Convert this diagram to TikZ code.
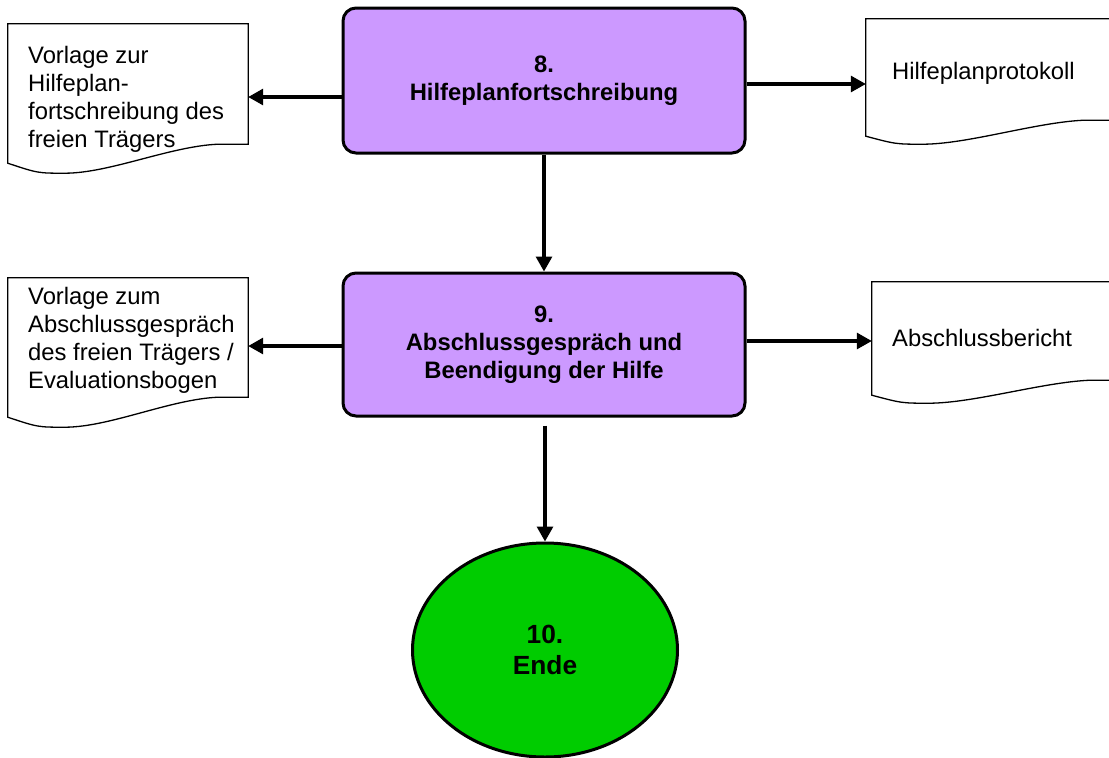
\documentclass[tikz,border=0pt]{standalone}
\usepackage{fontspec}
\setmainfont{Liberation Sans}
\usepackage{tikz}
\usetikzlibrary{calc,shapes,arrows.meta,positioning}

\definecolor{lila}{RGB}{204,153,255}
\definecolor{gruen}{RGB}{0,204,0}

\tikzset{
  prozess/.style={draw, line width=3pt, rounded corners=13pt, fill=lila,
    minimum width=402pt, minimum height=145pt, align=center, font=\bfseries},
  ende/.style={draw, ellipse, line width=3pt, fill=gruen, minimum width=265pt,
    minimum height=214pt, inner sep=0pt, align=center,
    font=\fontsize{26.3}{31.5}\selectfont\bfseries},
  dok/.style={inner sep=0pt},
  dokrand/.style={line width=1.3pt},
  doktext/.style={anchor=north west, align=left, inner sep=0pt},
  pfeil/.style={line width=3.1pt, -{Triangle[length=15pt,width=16pt]}}
}

% Dokument-Symbol: Name, Absatz links, Tiefe der Welle
\newcommand{\dokrand}[3]{%
  \draw[dokrand] (#1.north west) -- (#1.north east) -- (#1.south east)
    -- ($(#1.south east)+(-30,0)$)
    .. controls ($(#1.south east)+(-78,2)$) and ($(#1.south west)+(102,#3)$) .. ($(#1.south west)+(57,#3)$)
    .. controls ($(#1.south west)+(30,#3)$) .. ($(#1.south west)+(0,#2)$) -- cycle;}

\begin{document}
\begin{tikzpicture}[x=1pt,y=-1pt]
\useasboundingbox (0,0) rectangle (1109,758);
\fontsize{23.8}{28}\selectfont

\node[prozess] (b8) at (544,80.5) {8.\\Hilfeplanfortschreibung};
\node[prozess, minimum height=143pt] (b9) at (544,344.5) {9.\\Abschlussgespräch und\\Beendigung der Hilfe};
\node[ende] (b10) at (545,650) {10.\\Ende};

% Dokumente links
\node[dok, minimum width=240pt, minimum height=120pt] (d1) at (128,84) {};
\dokrand{d1}{19}{29}
\node[doktext] (t1) at (28,46.5) {Vorlage zur\\Hilfeplan-\\fortschreibung des\\freien Trägers};

\node[dok, minimum width=240pt, minimum height=119pt] (d2) at (128,337.5) {};
\dokrand{d2}{20}{30}
\node[doktext] (t2) at (28,287.5) {Vorlage zum\\Abschlussgespräch\\des freien Trägers /\\Evaluationsbogen};

% Dokumente rechts
\node[dok, minimum width=248pt, minimum height=101pt] (d3) at (990,69.5) {};
\dokrand{d3}{16}{24}
\node[doktext] (t3) at (892,62.5) {Hilfeplanprotokoll};

\node[dok, minimum width=248pt, minimum height=98pt] (d4) at (996,331) {};
\dokrand{d4}{15}{23}
\node[doktext] (t4) at (892,329.5) {Abschlussbericht};

% Pfeile
\draw[pfeil] (b8.west |- 0,97) -- (d1.east |- 0,97);
\draw[pfeil] (b8.east |- 0,84) -- (d3.west |- 0,84);
\draw[pfeil] (b8.south) -- (b9.north);
\draw[pfeil] (b9.west |- 0,346) -- (d2.east |- 0,346);
\draw[pfeil] (b9.east |- 0,341) -- (d4.west |- 0,341);
\draw[pfeil, shorten <=8pt] (b9.south -| b10.north) -- (b10.north);

\end{tikzpicture}
\end{document}
